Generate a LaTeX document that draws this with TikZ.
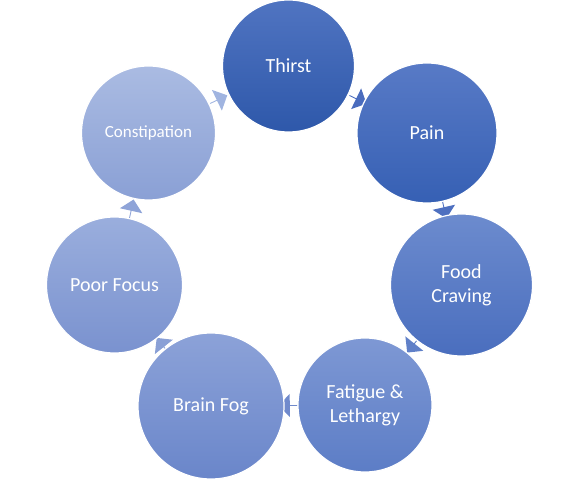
\documentclass[tikz,border=0pt]{standalone}
\usepackage{fontspec}
\setmainfont{Carlito}
\usetikzlibrary{shapes.arrows}
\pgfdeclarelayer{bg}
\pgfsetlayers{bg,main}
\definecolor{t1}{RGB}{80,116,193}   \definecolor{b1}{RGB}{46,88,170}
\definecolor{t2}{RGB}{88,122,198}   \definecolor{b2}{RGB}{54,96,180}
\definecolor{t3}{RGB}{108,139,206}  \definecolor{b3}{RGB}{74,110,190}
\definecolor{t4}{RGB}{126,152,212}  \definecolor{b4}{RGB}{92,125,198}
\definecolor{t5}{RGB}{140,162,216}  \definecolor{b5}{RGB}{106,134,202}
\definecolor{t6}{RGB}{154,174,221}  \definecolor{b6}{RGB}{122,146,207}
\definecolor{t7}{RGB}{170,187,226}  \definecolor{b7}{RGB}{138,160,213}
\definecolor{ar1}{RGB}{74,108,190}
\definecolor{ar2}{RGB}{78,112,192}
\definecolor{ar3}{RGB}{96,128,200}
\definecolor{ar4}{RGB}{112,138,204}
\definecolor{ar5}{RGB}{138,160,214}
\definecolor{ar6}{RGB}{143,164,216}
\definecolor{ar7}{RGB}{160,180,224}
\tikzset{
  stage/.style={circle, draw=white, line width=1.2pt, inner sep=0pt, text=white,
    align=center, font=\fontsize{20}{24}\selectfont},
  cyc/.style={single arrow, draw=none, minimum width=23pt, minimum height=19pt,
    single arrow head extend=5pt, inner sep=0pt, sloped, allow upside down, anchor=center},
}
\begin{document}
\begin{tikzpicture}[x=1pt,y=1pt]
\useasboundingbox (0,0) rectangle (579,480);
\node[stage, minimum size=132pt, top color=t1, bottom color=b1] (thirst) at (288.5,414) {Thirst};
\node[stage, minimum size=140pt, top color=t2, bottom color=b2] (pain) at (427,347) {Pain};
\node[stage, minimum size=142pt, top color=t3, bottom color=b3] (food) at (461.5,195) {Food\\Craving};
\node[stage, minimum size=134pt, top color=t4, bottom color=b4] (fatigue) at (365,75) {Fatigue \&\\Lethargy};
\node[stage, minimum size=146pt, top color=t5, bottom color=b5] (brain) at (211,74) {Brain Fog};
\node[stage, minimum size=136pt, top color=t6, bottom color=b6] (focus) at (114.5,195) {Poor Focus};
\node[stage, minimum size=134pt, font=\fontsize{17}{20}\selectfont, top color=t7, bottom color=b7] (const) at (148.5,347) {Constipation};
\begin{pgfonlayer}{bg}
\path (thirst.center) -- node[cyc, fill=ar1] (a1) {} (pain.center);
\path (pain.center) -- node[cyc, fill=ar2] (a2) {} (food.center);
\path (food.center) -- node[cyc, fill=ar3] (a3) {} (fatigue.center);
\path (fatigue.center) -- node[cyc, fill=ar4] (a4) {} (brain.center);
\path (brain.center) -- node[cyc, fill=ar5] (a5) {} (focus.center);
\path (focus.center) -- node[cyc, fill=ar6] (a6) {} (const.center);
\path (const.center) -- node[cyc, fill=ar7] (a7) {} (thirst.center);
\end{pgfonlayer}
\end{tikzpicture}
\end{document}
